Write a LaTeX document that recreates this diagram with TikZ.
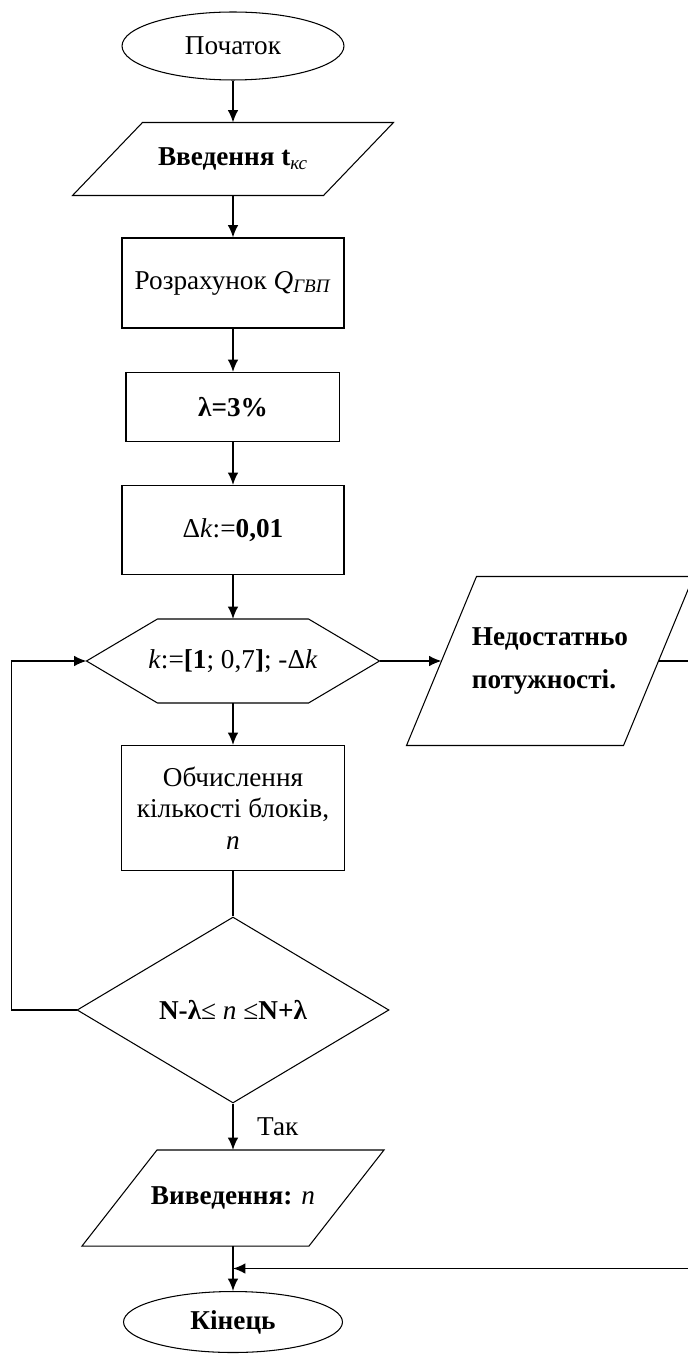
\documentclass[tikz,border=0pt]{standalone}
\usepackage{fontspec}
\setmainfont{Liberation Serif}
\usetikzlibrary{shapes.geometric,calc,arrows.meta}

\begin{document}
\begin{tikzpicture}[x=0.02cm,y=-0.02cm,line width=0.6pt,
  font=\fontsize{15.5}{18}\selectfont,
  blok/.style={draw,rectangle,minimum width=4.44cm,minimum height=1.8cm,align=center},
  term/.style={draw,ellipse,minimum width=4.44cm,minimum height=1.36cm},
  vvid/.style={rectangle,inner sep=0pt,align=center},
  umova/.style={draw,diamond,minimum width=6.24cm,minimum height=3.72cm,inner sep=0pt},
  tsykl/.style={rectangle,inner sep=0pt,minimum width=5.84cm,minimum height=1.66cm},
  strilka/.style={-{Latex[length=7pt,width=6pt]},line width=0.9pt}]
\useasboundingbox (0,0) rectangle (688,1354);
\def\midx{233}
% parallelogram round a node: #1 node, #2 half of the slant
\def\paral#1#2{\draw ([xshift=-#2]#1.south west) -- ([xshift=#2]#1.north west)
  -- ([xshift=#2]#1.north east) -- ([xshift=-#2]#1.south east) -- cycle;}

\node[term] (start) at (\midx,46) {Початок};
\node[vvid,minimum width=5cm,minimum height=1.44cm] (inp) at (\midx,159)
  {\textbf{Введення t}\textsubscript{\textit{кс}}};
\paral{inp}{0.7cm}
\node[blok] (calc) at (\midx,283) {Розрахунок \textit{Q}\textsubscript{\textit{ГВП}}};
\node[blok,minimum width=4.26cm,minimum height=1.38cm] (lam) at (\midx,407) {\textbf{λ=3\%}};
\draw[line width=1.6pt] (lam.north west) -- (lam.south west);
\node[blok,minimum height=1.78cm] (dk) at (\midx,530) {Δ\textit{k}:=\textbf{0,01}};
\node[tsykl] (cyc) at (\midx,661) {\textit{k}:=\textbf{[1}; 0,7\textbf{]}; -Δ\textit{k}};
\draw (cyc.west) -- ([xshift=1.42cm]cyc.north west) -- ([xshift=-1.42cm]cyc.north east)
  -- (cyc.east) -- ([xshift=-1.42cm]cyc.south east) -- ([xshift=1.42cm]cyc.south west) -- cycle;
\node[vvid,minimum width=4.32cm,minimum height=3.36cm,
  align=left,font=\fontsize{15.5}{25}\selectfont] (err) at (550,661)
  {\textbf{Недостатньо}\\\textbf{потужності.}};
\paral{err}{0.7cm}
\node[blok,minimum width=4.46cm,minimum height=2.5cm] (cnt) at (\midx,808)
  {Обчислення\\кількості блоків,\\\textit{n}};
\node[umova] (cond) at (\midx,1010) {\textbf{N-λ}≤ \textit{n} ≤\textbf{N+λ}};
\node[vvid,minimum width=4.52cm,minimum height=1.9cm] (outp) at (\midx,1198)
  {\textbf{Виведення:} \textit{n}};
\paral{outp}{0.75cm}
\node[term,minimum width=4.38cm,minimum height=1.22cm] (stop) at (\midx,1322) {\textbf{Кінець}};

\draw[strilka] (start) -- (inp);
\draw[strilka] (inp) -- (calc);
\draw[strilka] (calc) -- (lam);
\draw[strilka] (lam) -- (dk);
\draw[strilka] (dk) -- (cyc);
\draw[strilka] (cyc.east) -- (err.west);
\draw[strilka] (cyc) -- (cnt);
\draw (cnt) -- (cond);
\draw[strilka] (cond.west) -- ++(-65,0) |- (cyc.west);
\draw[strilka] (cond) -- node[right,xshift=0.35cm]{Так} (outp);
\draw[strilka] (outp) -- (stop);
\coordinate (zlyt) at ($(outp.south)!.5!(stop.north)$);
\draw[strilka] (err.east) -- ++(50,0) |- (zlyt);
\end{tikzpicture}
\end{document}
